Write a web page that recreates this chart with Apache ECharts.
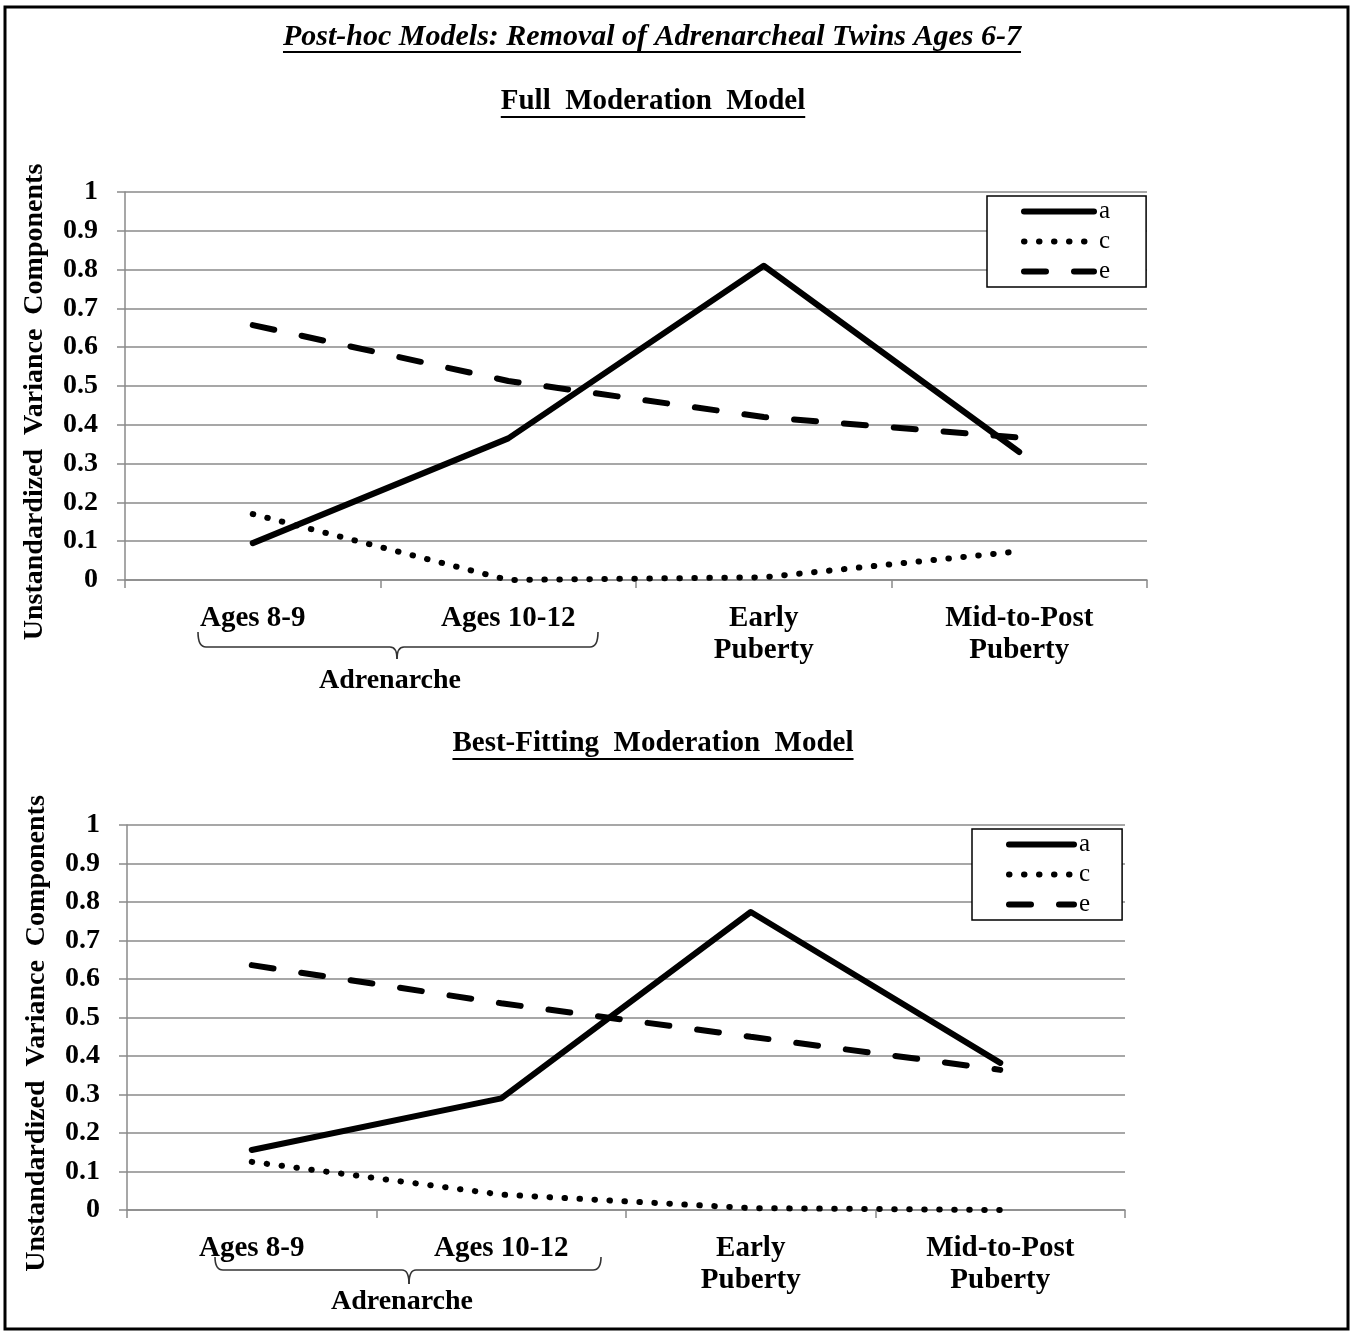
<!DOCTYPE html>
<html>
<head>
    <meta charset="UTF-8">
    <script type="text/javascript" src="https://cdn.jsdelivr.net/npm/echarts@6/dist/echarts.min.js"></script>
    <title>Post-hoc Models</title>
    <style>
        html, body { margin: 0; padding: 0; background: #fff; }
        #main { width: 1355px; height: 1332px; }
    </style>
</head>
<body>
    <div id="main"></div>
    <script type="text/javascript">
    // categories (shared by both panels)
    var categories = ['Ages 8-9', 'Ages 10-12', 'Early\nPuberty', 'Mid-to-Post\nPuberty'];
    var yTicks = [0, 0.1, 0.2, 0.3, 0.4, 0.5, 0.6, 0.7, 0.8, 0.9, 1];

    // Full Moderation Model
    var fullA = [0.095, 0.365, 0.81, 0.33];
    var fullC = [0.17, 0.0, 0.007, 0.074];
    var fullE = [0.657, 0.513, 0.42, 0.367];

    // Best-Fitting Moderation Model
    var bestA = [0.156, 0.29, 0.774, 0.382];
    var bestC = [0.125, 0.04, 0.005, 0.0];
    var bestE = [0.636, 0.537, 0.45, 0.364];

    var FONT = '"Liberation Serif", "Times New Roman", serif';
    var GRID_COLOR = '#8a8a8a';

    var ctx = document.createElement('canvas').getContext('2d');
    function textWidth(t, font) {
        ctx.font = font;
        return ctx.measureText(t).width;
    }

    function titleText(text, cx, cy, italic, size) {
        var font = (italic ? 'italic ' : '') + 'bold ' + size + 'px ' + FONT;
        var w = textWidth(text, font);
        return [{
            type: 'text',
            x: cx, y: cy,
            style: {
                text: text, font: font, fill: '#000',
                align: 'center', verticalAlign: 'middle',
                textAlign: 'center', textVerticalAlign: 'middle'
            }
        }, {
            type: 'line',
            shape: { x1: cx - w / 2, y1: cy + 15, x2: cx + w / 2, y2: cy + 15 },
            style: { stroke: '#000', lineWidth: 2 }
        }];
    }

    // curly brace under the two adrenarche categories
    function brace(x1, x2, xm, y0, y1, y2) {
        var st = { stroke: '#333', lineWidth: 1.6, fill: null };
        return [
            { type: 'bezierCurve', shape: { x1: x1, y1: y0, cpx1: x1, cpy1: y1, x2: x1 + 8, y2: y1 }, style: st },
            { type: 'line', shape: { x1: x1 + 8, y1: y1, x2: xm - 7, y2: y1 }, style: st },
            { type: 'bezierCurve', shape: { x1: xm - 7, y1: y1, cpx1: xm, cpy1: y1, x2: xm, y2: y2 }, style: st },
            { type: 'bezierCurve', shape: { x1: xm, y1: y2, cpx1: xm, cpy1: y1, x2: xm + 7, y2: y1 }, style: st },
            { type: 'line', shape: { x1: xm + 7, y1: y1, x2: x2 - 8, y2: y1 }, style: st },
            { type: 'bezierCurve', shape: { x1: x2 - 8, y1: y1, cpx1: x2, cpy1: y1, x2: x2, y2: y0 }, style: st }
        ];
    }

    function plainText(text, cx, cy) {
        return {
            type: 'text',
            x: cx, y: cy,
            style: {
                text: text, font: 'bold 28px ' + FONT, fill: '#000',
                align: 'center', verticalAlign: 'middle',
                textAlign: 'center', textVerticalAlign: 'middle'
            }
        };
    }

    function xAxisDef(idx) {
        return {
            type: 'category',
            gridIndex: idx,
            data: categories,
            boundaryGap: true,
            axisLine: { lineStyle: { color: GRID_COLOR, width: 1.5 } },
            axisTick: { show: true, length: 8, lineStyle: { color: GRID_COLOR, width: 1.5 } },
            axisLabel: {
                interval: 0,
                margin: 23,
                fontFamily: FONT, fontWeight: 'bold', fontSize: 29,
                lineHeight: 32, color: '#000'
            }
        };
    }

    function yAxisDef(idx) {
        return {
            type: 'value',
            gridIndex: idx,
            min: yTicks[0],
            max: yTicks[yTicks.length - 1],
            interval: 0.1,
            name: 'Unstandardized  Variance  Components',
            nameLocation: 'middle',
            nameGap: 76,
            nameRotate: 90,
            nameTextStyle: { fontFamily: FONT, fontWeight: 'bold', fontSize: 28, color: '#000', padding: [0, 32, 0, 0] },
            axisLine: { show: true, lineStyle: { color: GRID_COLOR, width: 1.5 } },
            axisTick: { show: true, length: 8, lineStyle: { color: GRID_COLOR, width: 1.5 } },
            axisLabel: {
                margin: 27,
                fontFamily: FONT, fontWeight: 'bold', fontSize: 28, color: '#000',
                formatter: function (v) { return String(Math.round(v * 10) / 10); }
            },
            splitLine: { show: true, lineStyle: { color: GRID_COLOR, width: 1.5 } }
        };
    }

    function seriesSet(idx, a, c, e) {
        return [{
            name: 'a', type: 'line', xAxisIndex: idx, yAxisIndex: idx,
            data: a, symbol: 'none', color: '#000',
            lineStyle: { color: '#000', width: 6, cap: 'round', join: 'round' }
        }, {
            name: 'c', type: 'line', xAxisIndex: idx, yAxisIndex: idx,
            data: c, symbol: 'none', color: '#000',
            lineStyle: { color: '#000', width: 6, type: [0.5, 14.5], cap: 'round' }
        }, {
            name: 'e', type: 'line', xAxisIndex: idx, yAxisIndex: idx,
            data: e, symbol: 'none', color: '#000',
            lineStyle: { color: '#000', width: 6, type: [22, 28], cap: 'round' }
        }];
    }

    function legendDef(left, top, iconW, padding) {
        return {
            data: ['a', 'c', 'e'],
            orient: 'vertical',
            left: left, top: top,
            itemWidth: iconW, itemHeight: 12,
            itemGap: 5,
            padding: padding,
            borderColor: '#000', borderWidth: 1.5,
            backgroundColor: '#fff',
            selectedMode: false,
            itemStyle: { opacity: 0 },
            lineStyle: { width: 6, cap: 'round', color: '#000' },
            textStyle: { fontFamily: FONT, fontSize: 25, lineHeight: 22, color: '#000' }
        };
    }

    var chart = echarts.init(document.getElementById('main'));

    var graphics = [{
        type: 'rect',
        shape: { x: 5, y: 7, width: 1343, height: 1322 },
        style: { stroke: '#000', lineWidth: 3, fill: null }
    }];
    graphics = graphics
        .concat(titleText('Post-hoc Models: Removal of Adrenarcheal Twins Ages 6-7', 652, 37, true, 30))
        .concat(titleText('Full  Moderation  Model', 653, 102, false, 29))
        .concat(titleText('Best-Fitting  Moderation  Model', 653, 744, false, 29))
        .concat(brace(198, 598, 397, 632, 647, 659))
        .concat(brace(215, 601, 409, 1257, 1270, 1284));
    graphics.push(plainText('Adrenarche', 390, 681));
    graphics.push(plainText('Adrenarche', 402, 1302));

    var option = {
        animation: false,
        backgroundColor: '#fff',
        grid: [
            { left: 125, top: 192, width: 1022, height: 388 },
            { left: 127, top: 825, width: 998, height: 385 }
        ],
        xAxis: [xAxisDef(0), xAxisDef(1)],
        yAxis: [yAxisDef(0), yAxisDef(1)],
        legend: [
            legendDef(987, 196, 70, [3, 36, 3, 34]),
            legendDef(972, 829, 65, [3, 32, 3, 34])
        ],
        series: seriesSet(0, fullA, fullC, fullE).concat(seriesSet(1, bestA, bestC, bestE)),
        graphic: graphics
    };
    chart.setOption(option);
    </script>
</body>
</html>
